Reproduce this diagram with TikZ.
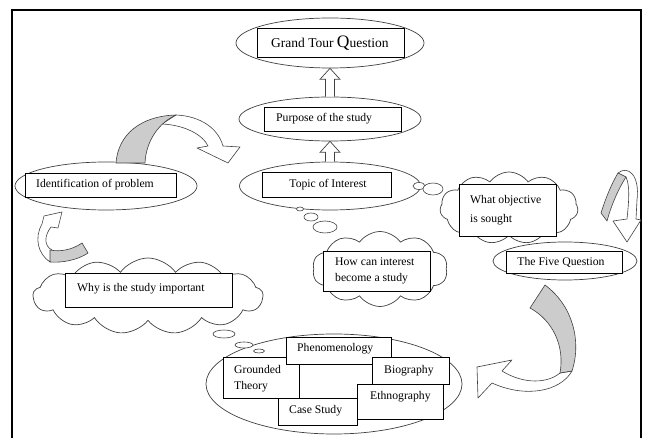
\documentclass[tikz,border=0pt]{standalone}
\usepackage{fontspec}
\setmainfont{Liberation Serif}
\usetikzlibrary{shapes.geometric,shapes.symbols,calc}
\begin{document}
\begin{tikzpicture}[x=1pt,y=-1pt,
  ell/.style={ellipse,draw=black!75,line width=0.7pt,fill=white,inner sep=0pt},
  bx/.style={rectangle,draw=black,line width=0.8pt,fill=white,inner sep=0pt},
  cl/.style={cloud,draw=black!75,line width=0.7pt,fill=white,inner sep=0pt,cloud ignores aspect,cloud puff arc=110},
  bub/.style={ellipse,draw=black!75,line width=0.6pt,fill=white,inner sep=0pt},
  tx/.style={inner sep=0pt,font=\fontsize{11.7}{16}\selectfont},
  hollow/.style={draw=black!75,line width=0.7pt,fill=white,line join=miter},
  band/.style={draw=black!75,line width=0.6pt,fill=white,line join=round},
  greyband/.style={draw=black!75,line width=0.6pt,fill=gray!40,line join=round}]
\path[use as bounding box] (0,0) rectangle (646,438);
% frame
\draw[line width=1.8pt] (12,440) -- (12,10) -- (641,10) -- (641,440);

% main column ellipses
\node[ell,minimum width=188pt,minimum height=50pt] (gtqE) at (330,43) {};
\node[ell,minimum width=182pt,minimum height=44pt] (purE) at (330,119) {};
\node[ell,minimum width=181pt,minimum height=48pt] (topE) at (330,186) {};
\node[ell,minimum width=182pt,minimum height=48pt] (idE) at (106,186) {};
\node[ell,minimum width=144pt,minimum height=38pt] (fivE) at (565,261) {};

% hollow block arrows
\draw[hollow] ($(purE.north)+(-4.5,0)$) -- ($(gtqE.south)+(-4.5,11)$) -- ($(gtqE.south)+(-10,11)$) -- (gtqE.south)
  -- ($(gtqE.south)+(10,11)$) -- ($(gtqE.south)+(4.5,11)$) -- ($(purE.north)+(4.5,0)$);
\draw[hollow] ($(topE.north)+(-4.5,0)$) -- ($(purE.south)+(-4.5,11)$) -- ($(purE.south)+(-10,11)$) -- (purE.south)
  -- ($(purE.south)+(10,11)$) -- ($(purE.south)+(4.5,11)$) -- ($(topE.north)+(4.5,0)$);

% clouds
\node[cl,cloud puffs=11,minimum width=138pt,minimum height=72pt] (objC) at (509,208) {};
\node[cl,cloud puffs=13,minimum width=230pt,minimum height=76pt] (whyC) at (148,296) {};
\node[cl,cloud puffs=10,minimum width=135pt,minimum height=75pt] (howC) at (380,269) {};

% thought bubbles
\node[bub,minimum width=12pt,minimum height=7pt] (b1) at (419,186) {};
\node[bub,minimum width=20pt,minimum height=12pt] (b2) at (433,189) {};
\node[bub,minimum width=7pt,minimum height=4pt] (b3) at (300,209) {};
\node[bub,minimum width=14pt,minimum height=8pt] (b4) at (311,217) {};
\node[bub,minimum width=24pt,minimum height=12pt] (b5) at (325,227) {};

% method ellipse
\node[ell,minimum width=256pt,minimum height=100pt] (metE) at (334,384) {};
\node[bub,minimum width=22pt,minimum height=8pt] (b6) at (224,334) {};
\node[bub,minimum width=18pt,minimum height=6pt] (b7) at (244,345) {};
\node[bub,minimum width=11pt,minimum height=4pt] (b8) at (259,351) {};

% boxes
\node[bx,minimum width=147pt,minimum height=29pt] (gtqB) at (330.5,42.5) {};
\node[bx,minimum width=137pt,minimum height=24pt] (purB) at (332.5,119) {};
\node[bx,minimum width=129pt,minimum height=25pt] (topB) at (326.5,184.5) {};
\node[bx,minimum width=151pt,minimum height=24pt] (idB) at (100.5,185) {};
\node[bx,minimum width=97pt,minimum height=52pt] (objB) at (507.5,210) {};
\node[bx,minimum width=116pt,minimum height=22pt] (fivB) at (564,262) {};
\node[bx,minimum width=167pt,minimum height=34pt] (whyB) at (148.5,290) {};
\node[bx,minimum width=107pt,minimum height=40pt] (howB) at (376.5,271) {};
\node[bx,minimum width=76pt,minimum height=41pt] (grB) at (261,377.5) {};
\node[bx,minimum width=105pt,minimum height=27pt] (phB) at (338.5,350.5) {};
\node[bx,minimum width=77pt,minimum height=27pt] (biB) at (410.5,370.5) {};
\node[bx,minimum width=79pt,minimum height=27pt] (csB) at (317.5,411.5) {};
\node[bx,minimum width=86pt,minimum height=35pt] (etB) at (400,401.5) {};

% texts
\node[tx,anchor=west] (gtqT) at (271,43) {\fontsize{13.5}{16}\selectfont Grand Tour {\fontsize{17.5}{16}\selectfont Q}uestion};
\node[tx,anchor=west] (purT) at (276,119) {Purpose of the study};
\node[tx] (topT) at (328,185) {Topic of Interest};
\node[tx,anchor=west] (idT) at (36,185) {Identification of problem};
\node[tx,anchor=west,align=left,font=\fontsize{11.7}{19}\selectfont] (objT) at (470,210) {What objective\\is sought};
\node[tx] (fivT) at (561,262) {The Five Question};
\node[tx,anchor=west] (whyT) at (77,289) {Why is the study important};
\node[tx,anchor=west,align=left] (howT) at (335,271) {How can interest\\become a study};
\node[tx,anchor=west,align=left] (grT) at (234,378.5) {Grounded\\Theory};
\node[tx,anchor=west] (phT) at (297,349) {Phenomenology};
\node[tx,anchor=west] (biT) at (384,371) {Biography};
\node[tx,anchor=west] (etT) at (370,397) {Ethnography};
\node[tx,anchor=west] (csT) at (289,411) {Case Study};

% curved arrow A (identification -> topic)
\draw[band] (176,115) .. controls (200,116) and (218,128) .. (223,146) -- (240,147) -- (228,163) -- (197,148) -- (208,146)
  .. controls (203,135) and (185,125) .. (162,124) -- cycle;
\draw[greyband] (116,163) .. controls (118,135) and (140,116) .. (176,115) .. controls (160,122) and (146,140) .. (145,163) -- cycle;

% curved arrow B (objective -> five question)
\draw[band] (618,173) .. controls (628,165) and (640,175) .. (637,200) -- (636,219) -- (641,220) -- (627,242) -- (613,221) -- (627,219)
  .. controls (629,200) and (630,186) .. (626,177) -- cycle;
\draw[greyband] (601,213) .. controls (606,197) and (612,183) .. (618,173) -- (626,177) .. controls (619,188) and (612,203) .. (607,221) -- cycle;

% curved arrow C (five question -> methods)
\draw[band] (560,373) .. controls (548,383) and (525,385) .. (502,371) -- (512,360) -- (477,367) -- (478,398) -- (492,383)
  .. controls (525,398) and (560,392) .. (572,371) -- cycle;
\draw[greyband] (545,285) .. controls (572,305) and (582,340) .. (572,371) -- (560,373) .. controls (565,345) and (552,320) .. (530,308) -- cycle;

% curved arrow D (why -> identification)
\draw[band] (50,262) .. controls (38,254) and (34,238) .. (42,224) -- (44,216) -- (62,212) -- (58,228) -- (51,227)
  .. controls (44,236) and (44,246) .. (52,250) -- cycle;
\draw[greyband] (50,250) .. controls (60,252) and (72,250) .. (82,243) -- (88,253) .. controls (78,260) and (62,263) .. (50,262) -- cycle;
\end{tikzpicture}
\end{document}
